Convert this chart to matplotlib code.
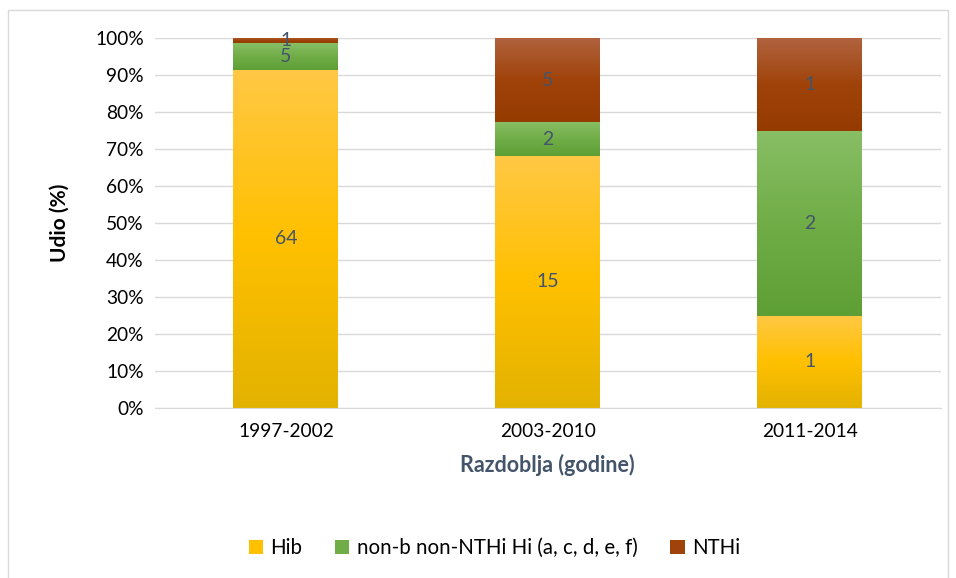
import numpy as np
import matplotlib
matplotlib.use('Agg')
import matplotlib.pyplot as plt
from matplotlib.colors import LinearSegmentedColormap
from matplotlib.patches import Patch, Rectangle


###############################
# Data
###############################
periods = ['1997-2002', '2003-2010', '2011-2014']
series = ['Hib', 'non-b non-NTHi Hi (a, c, d, e, f)', 'NTHi']
hib = [64, 15, 1]
nonb = [5, 2, 2]
nthi = [1, 5, 1]

# (bottom, middle, top) of each gradient fill
shades = [
    ('#E3B200', '#FFC000', '#FFC845'),
    ('#5E9F35', '#70AD47', '#88BE65'),
    ('#953B00', '#A0430A', '#B0633F'),
]

plt.rcParams['font.family'] = ['Lato', 'DejaVu Sans']

fig = plt.figure(figsize=(9.56, 5.78), dpi=100)
ax = fig.add_axes([0.162, 0.294, 0.822, 0.640])

# chart border
fig.patches.append(Rectangle((0.0084, -0.01), 0.9832, 0.993, transform=fig.transFigure,
                             fill=False, edgecolor='#D9D9D9', linewidth=1))

counts = np.array([hib, nonb, nthi], dtype=float)
shares = counts / counts.sum(axis=0) * 100
width = 0.4
grad = np.linspace(0, 1, 256).reshape(-1, 1)

for i, period in enumerate(periods):
    bottom = 0
    for s in range(len(series)):
        h = shares[s, i]
        cmap = LinearSegmentedColormap.from_list('g', shades[s])
        ax.imshow(grad, cmap=cmap, origin='lower', aspect='auto', zorder=2,
                  extent=[i - width / 2, i + width / 2, bottom, bottom + h])
        ax.text(i, bottom + h / 2, str(int(counts[s, i])), ha='center', va='center',
                fontsize=14, color='#44546A', zorder=3)
        bottom += h

ax.set_xlim(-0.5, 2.5)
ax.set_ylim(0, 100)
ax.set_yticks(np.arange(0, 101, 10))
ax.set_yticklabels([f'{v}%' for v in range(0, 101, 10)], fontsize=13.8)
ax.set_xticks(range(len(periods)))
ax.set_xticklabels(periods, fontsize=13.8)
ax.tick_params(length=0, pad=8)
ax.tick_params(axis='x', pad=11)
ax.grid(axis='y', color='#D9D9D9', linewidth=1, zorder=0)
ax.set_axisbelow(True)
for side in ['top', 'right', 'left']:
    ax.spines[side].set_visible(False)
ax.spines['bottom'].set_color('#D9D9D9')

ax.set_ylabel('Udio (%)', fontsize=15, fontweight='bold', labelpad=18)
ax.set_xlabel('Razdoblja (godine)', fontsize=15.5, fontweight='bold', color='#44546A', labelpad=10)

handles = [Patch(facecolor=shades[k][1], label=series[k]) for k in range(len(series))]
fig.legend(handles=handles, loc='center', bbox_to_anchor=(0.517, 0.052), ncol=3, frameon=False,
           fontsize=14.8, handlelength=0.7, handleheight=0.7, columnspacing=1.6, handletextpad=0.35)

fig.savefig('out.png', dpi=100)
